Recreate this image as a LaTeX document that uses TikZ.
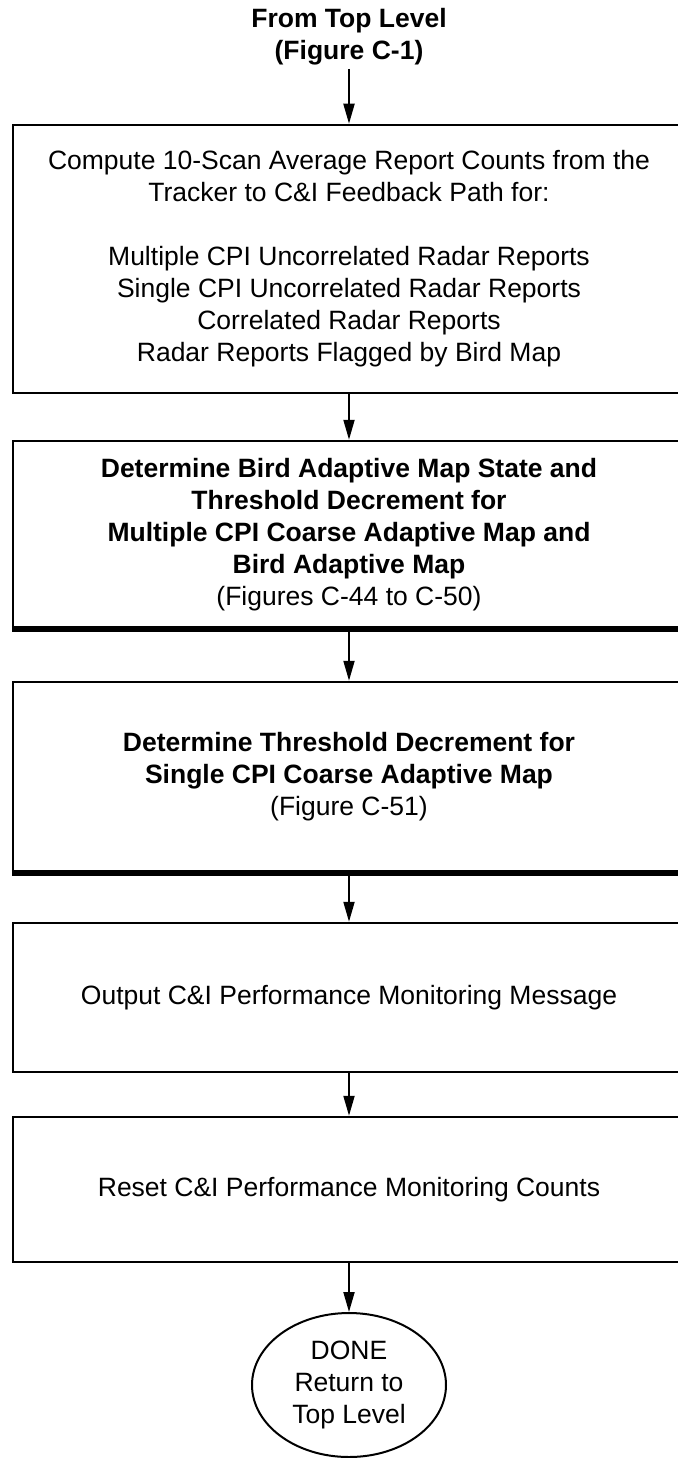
\documentclass[tikz,border=0pt]{standalone}
\usepackage{fontspec}
\setmainfont{Liberation Sans}
\usetikzlibrary{arrows.meta,shapes.geometric}

\begin{document}
\begin{tikzpicture}[x=1pt,y=-1pt,>={Triangle[length=20pt,width=11pt]}]
  \tikzset{every node/.style={font=\fontsize{26.5}{32}\selectfont,align=center},
    procbox/.style={draw,line width=2.5pt,minimum width=672pt,inner sep=0pt}}
  \useasboundingbox (0,0) rectangle (677,1458);

  \node (start) at (349,37)  {\bfseries From Top Level\\\bfseries (Figure C-1)};
  \node[procbox,minimum height=268pt] (count) at (349,259)
    {Compute 10-Scan Average Report Counts from the\\
     Tracker to C\&I Feedback Path for:\\[32pt]
     Multiple CPI Uncorrelated Radar Reports\\
     Single CPI Uncorrelated Radar Reports\\
     Correlated Radar Reports\\
     Radar Reports Flagged by Bird Map};
  \node[procbox,minimum height=187pt] (bird) at (349,534.5)
    {\bfseries Determine Bird Adaptive Map State and\\
     \bfseries Threshold Decrement for\\
     \bfseries Multiple CPI Coarse Adaptive Map and\\
     \bfseries Bird Adaptive Map\\
     (Figures C-44 to C-50)};
  \node[procbox,minimum height=190pt] (single) at (349,777)
    {\bfseries Determine Threshold Decrement for\\
     \bfseries Single CPI Coarse Adaptive Map\\
     (Figure C-51)};
  \node[procbox,minimum height=149pt] (output) at (349,997.5)
    {Output C\&I Performance Monitoring Message};
  \node[procbox,minimum height=145pt] (reset) at (349,1189.5)
    {Reset C\&I Performance Monitoring Counts};
  \node[draw,ellipse,line width=2pt,minimum width=194pt,minimum height=144pt,inner sep=0pt] (done) at (349,1385)
    {DONE\\Return to\\Top Level};

  % heavier lower edges
  \draw[line width=6pt] (bird.south west) -- (bird.south east);
  \draw[line width=6pt] (single.south west) -- (single.south east);

  \path[->,line width=2pt]
    (start) edge (count)
    (count) edge (bird)
    (bird) edge (single)
    (single) edge (output)
    (output) edge (reset)
    (reset) edge (done);
\end{tikzpicture}
\end{document}
